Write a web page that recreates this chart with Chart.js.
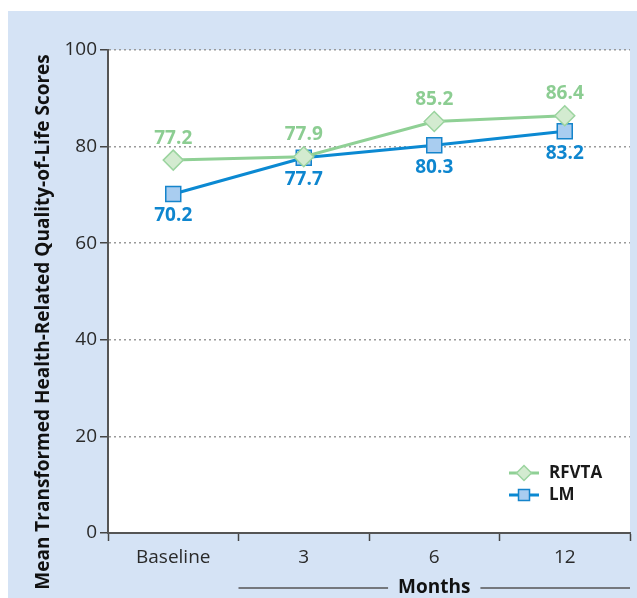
<!DOCTYPE html>
<html><head><meta charset="utf-8">
<script src="https://cdn.jsdelivr.net/npm/chart.js@4.4.0/dist/chart.umd.min.js"></script>
<style>html,body{margin:0;padding:0;background:#fff;}</style>
</head><body>
<canvas id="c" width="637" height="598"></canvas>
<script>
const categories = ['Baseline', '3', '6', '12'];
const rfvta = [77.2, 77.9, 85.2, 86.4];
const lm = [70.2, 77.7, 80.3, 83.2];
const seriesNames = ['RFVTA', 'LM'];
const yMin = 0, yMax = 100, yStep = 20;
const yTitle = 'Mean Transformed Health-Related Quality-of-Life Scores';
const xTitle = 'Months';

const FONT = "'Open Sans', 'Noto Sans', sans-serif";
const GREEN_LINE = '#8fd095', GREEN_FILL = '#d3ebd0', GREEN_EDGE = '#9bd49f', GREEN_TEXT = '#8ccd92';
const BLUE_LINE = '#0b89d2', BLUE_FILL = '#a9cdf0', BLUE_EDGE = '#1584cb', BLUE_TEXT = '#0e86cf';
const PANEL = '#d5e3f5';

const bgPlugin = {
  id: 'bg',
  beforeDraw(chart) {
    const ctx = chart.ctx, a = chart.chartArea;
    ctx.save();
    ctx.fillStyle = '#fff';
    ctx.fillRect(0, 0, chart.width, chart.height);
    ctx.fillStyle = PANEL;
    ctx.fillRect(8, 11, chart.width - 8, chart.height - 11);
    ctx.fillStyle = '#fff';
    ctx.fillRect(a.left, a.top, a.right - a.left, a.bottom - a.top);
    ctx.restore();
  }
};

const labelPlugin = {
  id: 'vlabels',
  afterDatasetsDraw(chart) {
    const ctx = chart.ctx;
    ctx.save();
    ctx.font = "bold 19px " + FONT;
    ctx.textAlign = 'center';
    ctx.textBaseline = 'middle';
    chart.data.datasets.forEach((ds, i) => {
      const meta = chart.getDatasetMeta(i);
      meta.data.forEach((pt, j) => {
        const above = i === 0;
        ctx.fillStyle = above ? GREEN_TEXT : BLUE_TEXT;
        ctx.fillText(ds.data[j].toFixed(1), pt.x, pt.y + (above ? -22 : 22));
      });
    });
    ctx.restore();
  }
};

function diamond(ctx, x, y, r, fill, edge) {
  ctx.beginPath();
  ctx.moveTo(x - r, y); ctx.lineTo(x, y - r); ctx.lineTo(x + r, y); ctx.lineTo(x, y + r); ctx.closePath();
  ctx.fillStyle = fill; ctx.fill();
  ctx.lineWidth = 1.5; ctx.strokeStyle = edge; ctx.stroke();
}
function square(ctx, x, y, h, fill, edge) {
  ctx.fillStyle = fill; ctx.fillRect(x - h, y - h, 2 * h, 2 * h);
  ctx.lineWidth = 1.5; ctx.strokeStyle = edge; ctx.strokeRect(x - h, y - h, 2 * h, 2 * h);
}

const decoPlugin = {
  id: 'deco',
  afterDraw(chart) {
    const ctx = chart.ctx, a = chart.chartArea, xs = chart.scales.x;
    ctx.save();
    // legend
    const lx0 = a.right - 121, lx1 = a.right - 91, ly0 = a.bottom - 60, ly1 = a.bottom - 38;
    ctx.lineWidth = 3;
    ctx.strokeStyle = GREEN_LINE;
    ctx.beginPath(); ctx.moveTo(lx0, ly0); ctx.lineTo(lx1, ly0); ctx.stroke();
    diamond(ctx, (lx0 + lx1) / 2, ly0, 7.5, GREEN_FILL, GREEN_EDGE);
    ctx.lineWidth = 3;
    ctx.strokeStyle = BLUE_LINE;
    ctx.beginPath(); ctx.moveTo(lx0, ly1); ctx.lineTo(lx1, ly1); ctx.stroke();
    square(ctx, (lx0 + lx1) / 2, ly1, 5.5, BLUE_FILL, BLUE_EDGE);
    ctx.fillStyle = '#1a1a1a';
    ctx.font = "bold 17px " + FONT;
    ctx.textAlign = 'left'; ctx.textBaseline = 'middle';
    ctx.fillText(seriesNames[0], lx1 + 10, ly0);
    ctx.fillText(seriesNames[1], lx1 + 10, ly1);

    // y title
    ctx.save();
    ctx.translate(44, 322);
    ctx.rotate(-Math.PI / 2);
    ctx.font = "bold 19px " + FONT;
    ctx.textAlign = 'center'; ctx.textBaseline = 'middle';
    ctx.fillStyle = '#111';
    ctx.fillText(yTitle, 0, 0);
    ctx.restore();

    // Months bracket
    const p0 = xs.getPixelForValue(0), p1 = xs.getPixelForValue(1);
    const start = (p0 + p1) / 2, end = a.right;
    const mid = (start + end) / 2, yy = 588;
    ctx.font = "bold 19px " + FONT;
    const w = ctx.measureText(xTitle).width;
    ctx.fillStyle = '#111';
    ctx.textAlign = 'center'; ctx.textBaseline = 'middle';
    ctx.fillText(xTitle, mid, yy);
    ctx.strokeStyle = '#555'; ctx.lineWidth = 1.5;
    ctx.beginPath();
    ctx.moveTo(start, yy); ctx.lineTo(mid - w / 2 - 10, yy);
    ctx.moveTo(mid + w / 2 + 10, yy); ctx.lineTo(end, yy);
    ctx.stroke();
    ctx.restore();
  }
};

new Chart(document.getElementById('c'), {
  type: 'line',
  data: {
    labels: categories,
    datasets: [
      { label: seriesNames[0], data: rfvta, borderColor: GREEN_LINE, borderWidth: 3,
        pointStyle: 'rectRot', pointRadius: 10, pointBackgroundColor: GREEN_FILL,
        pointBorderColor: GREEN_EDGE, pointBorderWidth: 1.5, tension: 0 },
      { label: seriesNames[1], data: lm, borderColor: BLUE_LINE, borderWidth: 3,
        pointStyle: 'rect', pointRadius: 10.6, pointBackgroundColor: BLUE_FILL,
        pointBorderColor: BLUE_EDGE, pointBorderWidth: 1.5, tension: 0 }
    ]
  },
  options: {
    responsive: false,
    animation: false,
    layout: { autoPadding: false, padding: { left: 8, top: 50, right: 7, bottom: 0 } },
    plugins: { legend: { display: false }, tooltip: { enabled: false } },
    scales: {
      x: {
        type: 'category', offset: true,
        grid: { offset: true, drawOnChartArea: false, drawTicks: true, tickLength: 8, tickColor: '#444', tickWidth: 1.5 },
        border: { color: '#555', width: 2 },
        ticks: { font: { family: FONT, size: 19 }, color: '#2a2a2a', padding: 5 },
        afterFit(s) { s.height = 65; }
      },
      y: {
        min: yMin, max: yMax,
        ticks: { stepSize: yStep, font: { family: FONT, size: 19 }, color: '#2a2a2a', padding: 3 },
        grid: { color: '#9a9a9a', lineWidth: 1.5, tickLength: 8, tickColor: '#444', tickWidth: 1.5, tickBorderDash: [] },
        border: { color: '#555', width: 2, dash: [2, 3] },
        afterFit(s) { s.width = 100; }
      }
    }
  },
  plugins: [bgPlugin, labelPlugin, decoPlugin]
});
</script>
</body></html>
